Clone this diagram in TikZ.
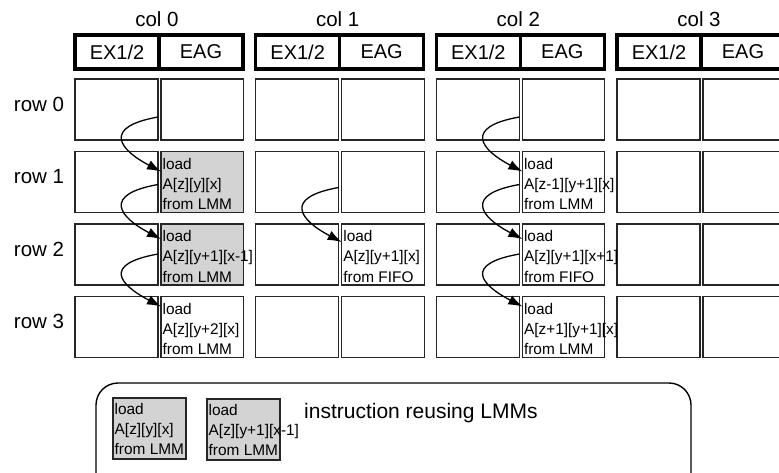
\documentclass[tikz,border=0pt]{standalone}
\usepackage{fontspec}
\setmainfont{Liberation Sans}
\usetikzlibrary{calc,arrows.meta}
\definecolor{lmmgray}{RGB}{211,211,211}
\begin{document}
\begin{tikzpicture}[x=1pt,y=-1pt,
  cell/.style={draw=black!85, line width=1.2pt, minimum width=83pt, minimum height=61pt,
    inner sep=0pt, outer sep=0pt, anchor=north west},
  head/.style={draw, line width=3.2pt, minimum width=84pt, minimum height=34pt,
    inner sep=0pt, outer sep=0pt, anchor=north west, font=\fontsize{20}{24}\selectfont},
  label/.style={anchor=base, inner sep=0pt, font=\fontsize{20.5}{24}\selectfont},
  celltext/.style={anchor=north west, inner sep=0pt, align=left,
    font=\fontsize{15.4}{20.3}\selectfont},
  reuse/.style={line width=1.3pt, -{Latex[length=14pt,width=10pt]}},
  legendbox/.style={draw=black!85, line width=1.2pt, fill=lmmgray, minimum width=73pt,
    minimum height=61pt, inner sep=0pt, outer sep=0pt, anchor=north west}]
\clip (0,0) rectangle (779,472);

% grid of processing elements: columns 0..3, rows 0..3
\foreach \c in {0,...,3}{
  \pgfmathsetmacro\colx{75+180.67*\c}
  \node[label] (collab-\c) at (\colx+82,26) {col \c};
  \node[head] (hex-\c) at (\colx,35) {EX1/2};
  \node[head] (heag-\c) at (\colx+84,35) {EAG};
  \foreach \r in {0,...,3}{
    \pgfmathsetmacro\rowy{79+72.5*\r}
    \pgfmathtruncatemacro\isgray{(\c==0 && \r>0 && \r<3) ? 1 : 0}
    \ifnum\isgray=1 \def\cellfill{lmmgray}\else\def\cellfill{white}\fi
    \node[cell] (ex-\c-\r) at (\colx,\rowy) {};
    \node[cell, fill=\cellfill, minimum width=82.5pt] (eag-\c-\r) at (\colx+86,\rowy) {};
  }
}
\foreach \r in {0,...,3}{
  \node[label] (rowlab-\r) at ($(ex-0-\r.north west)+(-36,32)$) {row \r};
}

% load instructions
\node[celltext] (t01) at ($(eag-0-1.north west)+(1.5,6.3)$) {load\\A[z][y][x]\\from LMM};
\node[celltext] (t02) at ($(eag-0-2.north west)+(1.5,6.3)$) {load\\A[z][y+1][x-1]\\from LMM};
\node[celltext] (t03) at ($(eag-0-3.north west)+(1.5,6.3)$) {load\\A[z][y+2][x]\\from LMM};
\node[celltext] (t12) at ($(eag-1-2.north west)+(1.5,6.3)$) {load\\A[z][y+1][x]\\from FIFO};
\node[celltext] (t21) at ($(eag-2-1.north west)+(1.5,6.3)$) {load\\A[z-1][y+1][x]\\from LMM};
\node[celltext] (t22) at ($(eag-2-2.north west)+(1.5,6.3)$) {load\\A[z][y+1][x+1]\\from FIFO};
\node[celltext] (t23) at ($(eag-2-3.north west)+(1.5,6.3)$) {load\\A[z+1][y+1][x]\\from LMM};

% data passed down to the next row
\foreach \c in {0,2}{
  \draw[reuse] ($(ex-\c-0.north east)+(0,38)$) .. controls +(-56,10) and +(-42,-22) .. ($(eag-\c-1.north west)+(0,20)$);
  \draw[reuse] ($(ex-\c-1.north east)+(0,33)$) .. controls +(-56,10) and +(-42,-22) .. ($(eag-\c-2.north west)+(0,15)$);
  \draw[reuse] ($(ex-\c-2.north east)+(0,30)$) .. controls +(-56,10) and +(-42,-22) .. ($(eag-\c-3.north west)+(0,10)$);
}
\draw[reuse] ($(ex-1-1.north east)+(0,36)$) .. controls +(-56,10) and +(-42,-22) .. ($(eag-1-2.north west)+(0,18)$);

% legend
\draw[line width=1.4pt, rounded corners=22pt] (96,383) rectangle (691,520);
\node[legendbox] (lg1) at (113,398) {};
\node[legendbox] (lg2) at (207,399) {};
\node[celltext] (lgt1) at ($(lg1.north west)+(1.5,4.8)$) {load\\A[z][y][x]\\from LMM};
\node[celltext] (lgt2) at ($(lg2.north west)+(1.5,4.8)$) {load\\A[z][y+1][x-1]\\from LMM};
\node[anchor=base west, inner sep=0pt, font=\fontsize{21}{25}\selectfont] (lgcap) at (304,418) {instruction reusing LMMs};
\end{tikzpicture}
\end{document}
